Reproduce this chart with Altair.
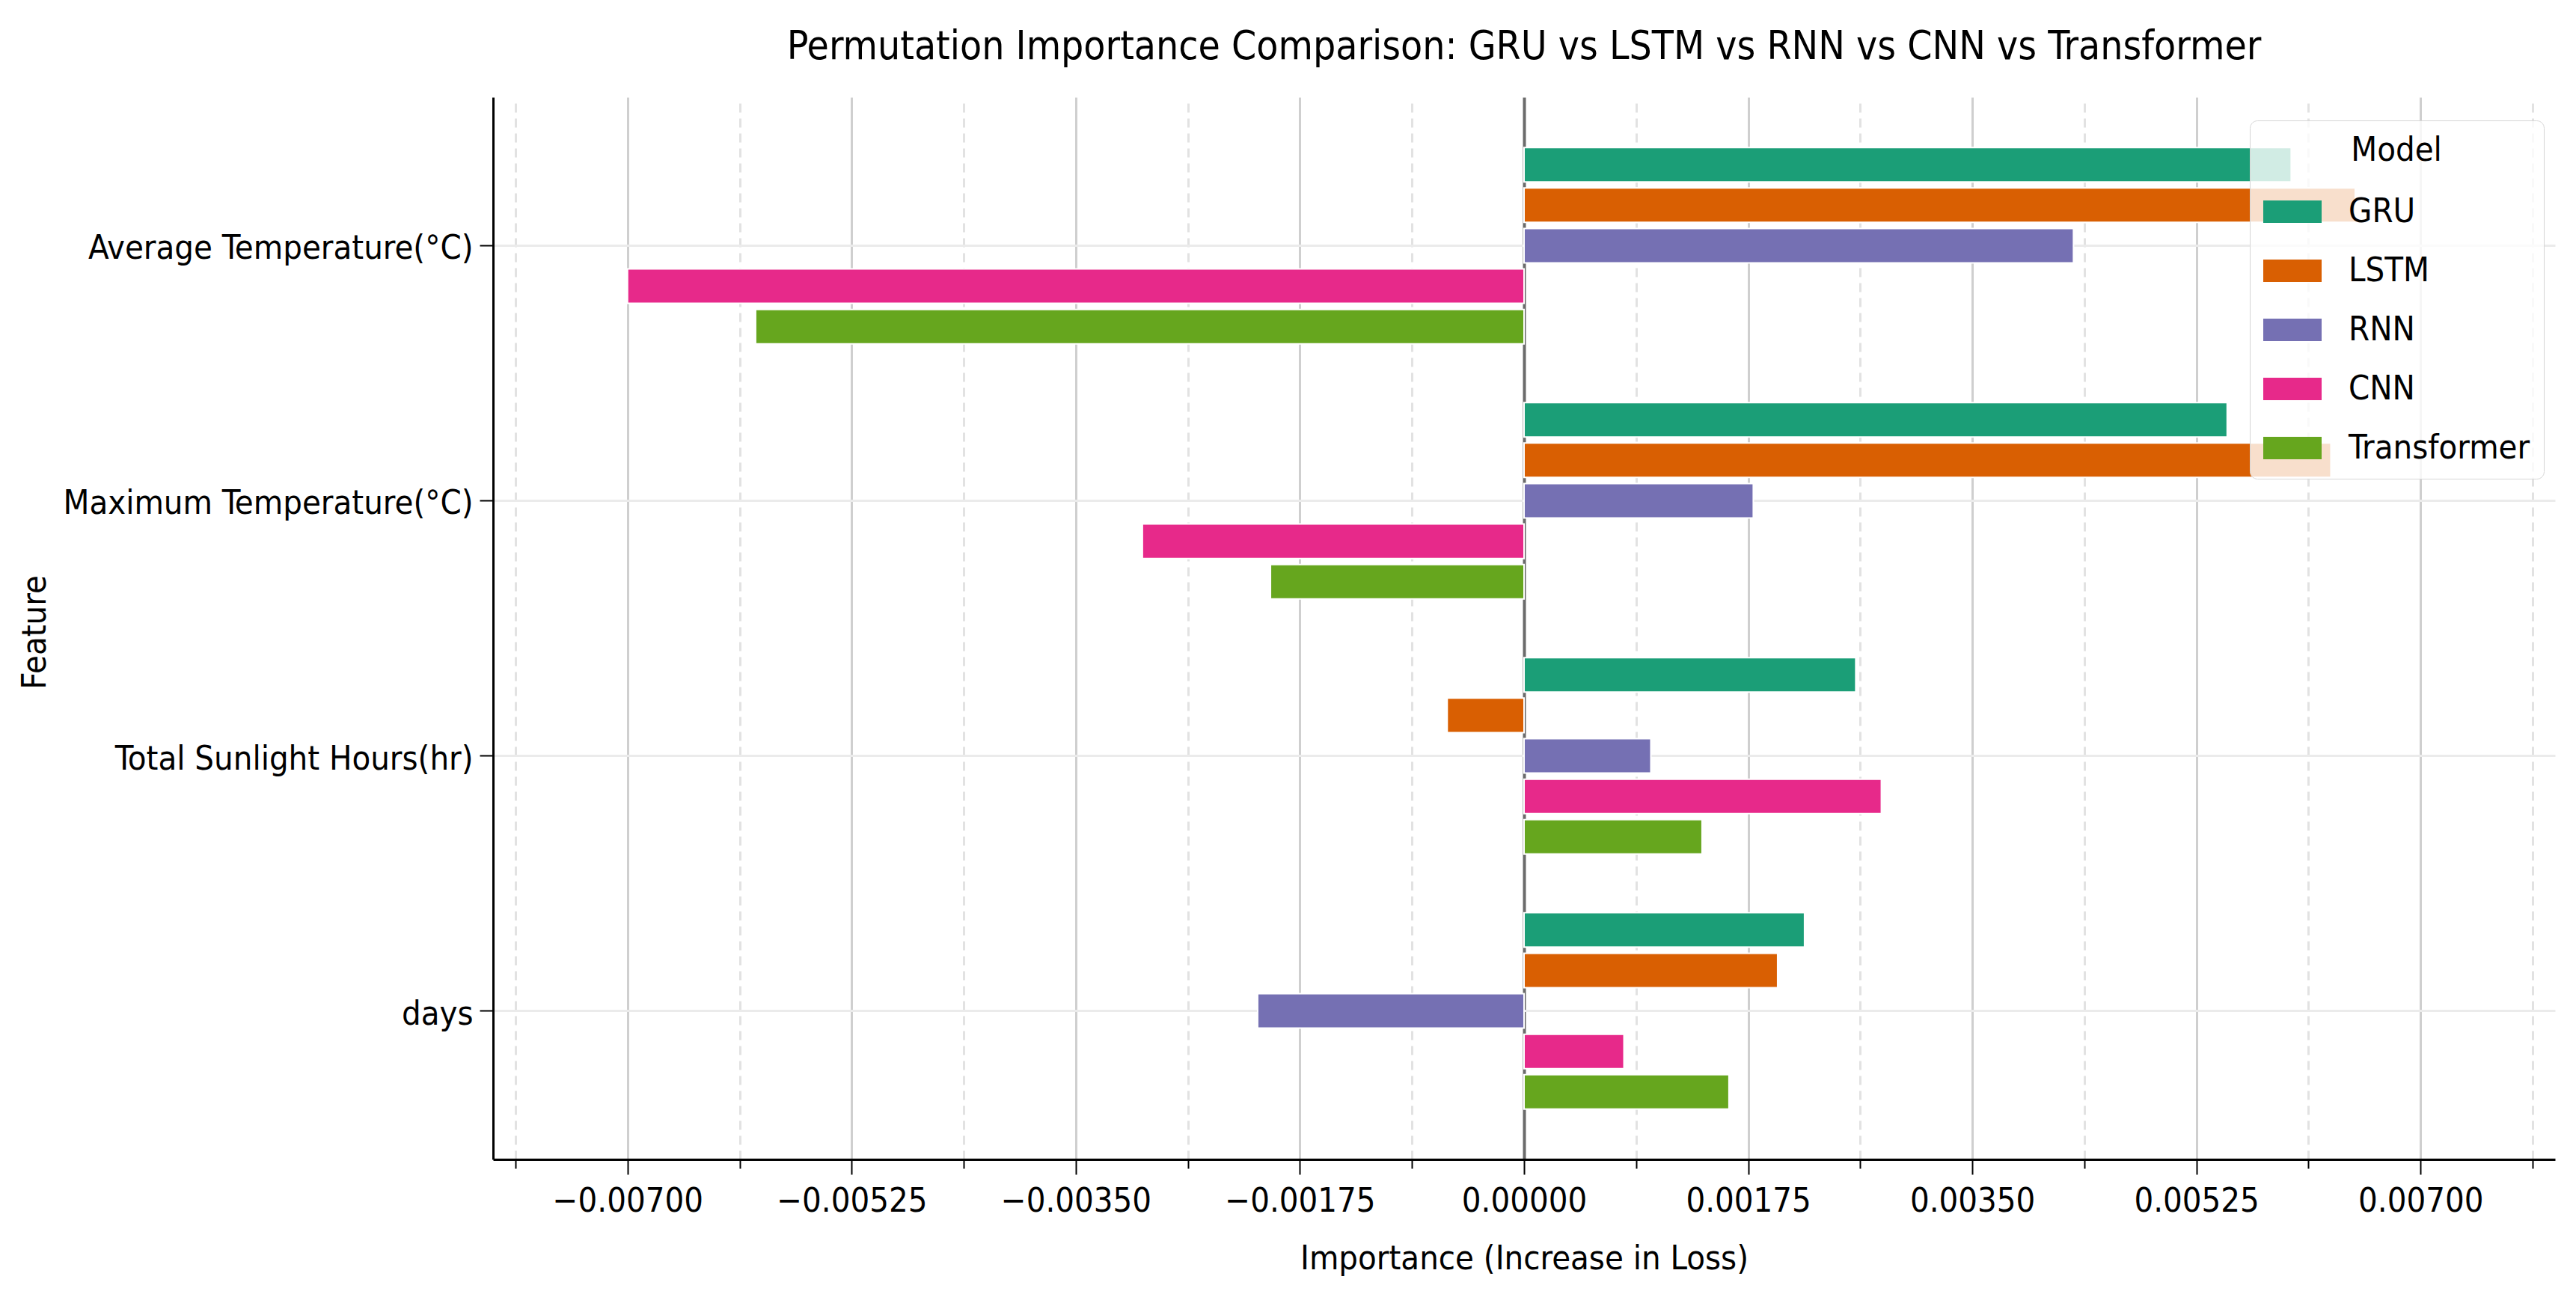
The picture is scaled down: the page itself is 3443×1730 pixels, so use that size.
import altair as alt
import pandas as pd

# Features (y) and models (bar colour)
features = ["Average Temperature(°C)", "Maximum Temperature(°C)",
            "Total Sunlight Hours(hr)", "days"]
models = ["GRU", "LSTM", "RNN", "CNN", "Transformer"]
colors = ["#1b9e77", "#d95f02", "#7570b3", "#e7298a", "#66a61e"]

# Permutation importance per model, one value per feature
gru = [0.00599, 0.00549, 0.00259, 0.00219]
lstm = [0.00649, 0.00630, -0.00060, 0.00198]
rnn = [0.00429, 0.00179, 0.00099, -0.00208]
cnn = [-0.00700, -0.00298, 0.00279, 0.00078]
transformer = [-0.00600, -0.00198, 0.00139, 0.00160]

# x ticks: major ones are labelled, the ones in between get dashed grid lines
major_ticks = [-0.007, -0.00525, -0.0035, -0.00175, 0.0, 0.00175, 0.0035, 0.00525, 0.007]
minor_ticks = [-0.007875, -0.006125, -0.004375, -0.002625, -0.000875,
               0.000875, 0.002625, 0.004375, 0.006125, 0.007875]
x_domain = [-0.00805, 0.00805]

series = [gru, lstm, rnn, cnn, transformer]
rows = []
for m, vals in zip(models, series):
    for f, v in zip(features, vals):
        rows.append({"feature": f, "model": m, "importance": v})
df = pd.DataFrame(rows)

FONT = "DejaVu Sans Condensed"
FS = 45
major_test = "abs(datum.value / 0.00175 - round(datum.value / 0.00175)) < 0.01"

chart = alt.Chart(df).mark_bar(stroke="white", strokeWidth=2).encode(
    x=alt.X(
        "importance:Q",
        title="Importance (Increase in Loss)",
        scale=alt.Scale(domain=x_domain, nice=False, zero=False),
        axis=alt.Axis(
            values=sorted(major_ticks + minor_ticks),
            format=".5f",
            labelExpr="abs(datum.value / 0.00175 - round(datum.value / 0.00175)) < 0.01 ? datum.label : ''",
            labelFontSize=FS,
            labelPadding=13,
            labelColor="black",
            labelFlush=False,
            labelLimit=0,
            tickSize={"condition": {"test": major_test, "value": 20}, "value": 12},
            tickColor="black",
            tickWidth=2,
            domainColor="black",
            domainWidth=3,
            grid=True,
            gridDash={"condition": {"test": major_test, "value": []}, "value": [12, 8]},
            gridColor={"condition": [{"test": "datum.value == 0", "value": "#6b6b6b"},
                                     {"test": major_test, "value": "#cfcfcf"}],
                       "value": "#e2e2e2"},
            gridWidth={"condition": {"test": "datum.value == 0", "value": 4}, "value": 3},
            titleFontSize=FS,
            titleFontWeight="normal",
            titleColor="black",
            titlePadding=32,
        ),
    ),
    y=alt.Y(
        "feature:N",
        sort=features,
        title="Feature",
        scale=alt.Scale(paddingInner=0.23, paddingOuter=0.197),
        axis=alt.Axis(
            bandPosition=0.5,
            grid=True,
            gridColor="#ebebeb",
            gridWidth=3,
            tickSize=18,
            tickColor="black",
            tickWidth=2,
            domainColor="black",
            domainWidth=3,
            labelFontSize=FS,
            labelColor="black",
            labelPadding=9,
            labelOffset=4,
            labelLimit=0,
            titleFontSize=FS,
            titleFontWeight="normal",
            titleColor="black",
            titleX=-590,
            titleY=715,
        ),
    ),
    yOffset=alt.YOffset("model:N", sort=models, scale=alt.Scale(paddingInner=0.15)),
    color=alt.Color(
        "model:N",
        sort=models,
        scale=alt.Scale(domain=models, range=colors),
        legend=alt.Legend(
            title="Model",
            orient="none",
            legendX=2348,
            legendY=31,
            titleFontSize=FS,
            titleFontWeight="normal",
            titleColor="black",
            titleAnchor="middle",
            titlePadding=20,
            labelFontSize=FS,
            labelColor="black",
            labelOffset=36,
            labelLimit=0,
            symbolType="M-1,-0.385H1V0.385H-1Z",
            symbolSize=6084,
            symbolStrokeWidth=0,
            symbolOpacity=1,
            rowPadding=17,
            padding=18,
            fillColor="rgba(255,255,255,0.8)",
            strokeColor="#d6d6d6",
            cornerRadius=10,
        ),
    ),
).properties(
    width=2756,
    height=1420,
    autosize=alt.AutoSizeParams(type="none"),
    padding={"left": 651, "top": 122, "right": 20, "bottom": 170},
    title=alt.TitleParams(
        "Permutation Importance Comparison: GRU vs LSTM vs RNN vs CNN vs Transformer",
        fontSize=53,
        fontWeight="normal",
        color="black",
        anchor="middle",
        offset=40,
    ),
).configure(
    font=FONT,
).configure_view(
    stroke=None,
)

chart.save("out.html", embed_options={"renderer": "svg", "actions": False})
